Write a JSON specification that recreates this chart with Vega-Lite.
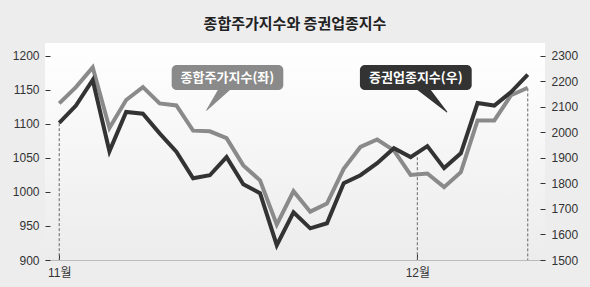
{
  "$schema": "https://vega.github.io/schema/vega-lite/v6.json",
  "width": 500,
  "height": 217,
  "autosize": {"type": "none"},
  "padding": {"left": 45, "top": 43, "right": 45, "bottom": 27},
  "background": "#ededed",
  "title": {"text": "종합주가지수와 증권업종지수", "font": "Noto Sans CJK KR", "fontSize": 15, "fontWeight": "bold", "color": "#222222", "offset": 11, "anchor": "middle"},
  "config": {
    "view": {"stroke": null, "fill": {"gradient": "linear", "x1": 0, "y1": 0, "x2": 0, "y2": 1, "stops": [{"offset": 0, "color": "#ffffff"}, {"offset": 1, "color": "#ececec"}]}},
    "axis": {"labelFont": "Liberation Sans, Noto Sans CJK KR", "labelFontSize": 12, "labelColor": "#333333", "grid": false, "tickColor": "#333333", "format": "d"}
  },
  "datasets": {
    "idx": [
      {"i": 0, "kospi": 1130, "sec": 2037},
      {"i": 1, "kospi": 1154, "sec": 2105},
      {"i": 2, "kospi": 1183, "sec": 2205},
      {"i": 3, "kospi": 1094, "sec": 1926},
      {"i": 4, "kospi": 1135, "sec": 2080},
      {"i": 5, "kospi": 1154, "sec": 2073},
      {"i": 6, "kospi": 1130, "sec": 1996},
      {"i": 7, "kospi": 1127, "sec": 1924},
      {"i": 8, "kospi": 1090, "sec": 1820},
      {"i": 9, "kospi": 1089, "sec": 1832},
      {"i": 10, "kospi": 1079, "sec": 1903},
      {"i": 11, "kospi": 1039, "sec": 1797},
      {"i": 12, "kospi": 1017, "sec": 1762},
      {"i": 13, "kospi": 952, "sec": 1558},
      {"i": 14, "kospi": 1001, "sec": 1687},
      {"i": 15, "kospi": 971, "sec": 1624},
      {"i": 16, "kospi": 983, "sec": 1644},
      {"i": 17, "kospi": 1034, "sec": 1801},
      {"i": 18, "kospi": 1066, "sec": 1832},
      {"i": 19, "kospi": 1077, "sec": 1879},
      {"i": 20, "kospi": 1061, "sec": 1938},
      {"i": 21, "kospi": 1025, "sec": 1903},
      {"i": 22, "kospi": 1027, "sec": 1946},
      {"i": 23, "kospi": 1007, "sec": 1860},
      {"i": 24, "kospi": 1029, "sec": 1918},
      {"i": 25, "kospi": 1105, "sec": 2115},
      {"i": 26, "kospi": 1105, "sec": 2105},
      {"i": 27, "kospi": 1142, "sec": 2158},
      {"i": 28, "kospi": 1153, "sec": 2226}
    ],
    "marks": [
      {"i": 0, "top": 1101},
      {"i": 21.4, "top": 1051},
      {"i": 28, "top": 1152}
    ],
    "boxes": [
      {"label": "종합주가지수(좌)", "x1": 6.72, "x2": 13.39, "xc": 10.05, "y1": 1186.3, "y2": 1149.6, "yc": 1168},
      {"label": "증권업종지수(우)", "x1": 17.97, "x2": 24.65, "xc": 21.31, "y1": 1186.3, "y2": 1149.6, "yc": 1168}
    ],
    "ptr": [
      {"label": "종합주가지수(좌)", "i": 10.0, "v": 1156, "w": 1},
      {"label": "종합주가지수(좌)", "i": 8.81, "v": 1120, "w": 0},
      {"label": "증권업종지수(우)", "i": 21.6, "v": 1156, "w": 1},
      {"label": "증권업종지수(우)", "i": 23.16, "v": 1117.6, "w": 0}
    ]
  },
  "layer": [
    {
      "data": {"name": "marks"},
      "mark": {"type": "rule", "color": "#666666", "strokeWidth": 1, "strokeDash": [3, 2]},
      "encoding": {
        "x": {"field": "i", "type": "quantitative", "scale": {"domain": [-0.85, 29.03], "nice": false, "zero": false}, "axis": {"values": [0, 21.4], "labelExpr": "datum.value < 1 ? '11월' : '12월'", "title": null, "domainColor": "#bbbbbb", "tickSize": -6, "labelPadding": 13}},
        "y": {"field": "top", "type": "quantitative", "scale": {"domain": [900, 1218.75], "nice": false, "zero": false}, "axis": null},
        "y2": {"datum": 900}
      }
    },
    {
      "data": {"name": "idx"},
      "mark": {"type": "line", "color": "#8a8a8a", "strokeWidth": 4, "strokeJoin": "miter", "strokeCap": "butt"},
      "encoding": {
        "x": {"field": "i", "type": "quantitative", "scale": {"domain": [-0.85, 29.03], "nice": false, "zero": false}, "axis": {"values": [0, 21.4], "labelExpr": "datum.value < 1 ? '11월' : '12월'", "title": null, "domainColor": "#bbbbbb", "tickSize": -6, "labelPadding": 13}},
        "y": {"field": "kospi", "type": "quantitative", "scale": {"domain": [900, 1218.75], "nice": false, "zero": false}, "axis": {"orient": "left", "values": [900, 950, 1000, 1050, 1100, 1150, 1200], "title": null, "domain": false, "tickSize": -5, "labelPadding": 11}}
      }
    },
    {
      "data": {"name": "idx"},
      "mark": {"type": "line", "color": "#333333", "strokeWidth": 4, "strokeJoin": "miter", "strokeCap": "butt"},
      "encoding": {
        "x": {"field": "i", "type": "quantitative", "scale": {"domain": [-0.85, 29.03], "nice": false, "zero": false}, "axis": {"values": [0, 21.4], "labelExpr": "datum.value < 1 ? '11월' : '12월'", "title": null, "domainColor": "#bbbbbb", "tickSize": -6, "labelPadding": 13}},
        "y": {"field": "sec", "type": "quantitative", "scale": {"domain": [1500, 2350], "nice": false, "zero": false}, "axis": {"orient": "right", "values": [1500, 1600, 1700, 1800, 1900, 2000, 2100, 2200, 2300], "title": null, "domain": false, "tickSize": -5, "labelPadding": 11}}
      }
    },
    {
      "data": {"name": "ptr"},
      "mark": {"type": "trail"},
      "encoding": {
        "x": {"field": "i", "type": "quantitative", "scale": {"domain": [-0.85, 29.03], "nice": false, "zero": false}, "axis": {"values": [0, 21.4], "labelExpr": "datum.value < 1 ? '11월' : '12월'", "title": null, "domainColor": "#bbbbbb", "tickSize": -6, "labelPadding": 13}},
        "y": {"field": "v", "type": "quantitative", "scale": {"domain": [900, 1218.75], "nice": false, "zero": false}, "axis": null},
        "size": {"field": "w", "type": "quantitative", "scale": {"domain": [0, 1], "range": [0, 11]}, "legend": null},
        "color": {"field": "label", "type": "nominal", "scale": {"domain": ["종합주가지수(좌)", "증권업종지수(우)"], "range": ["#8a8a8a", "#333333"]}, "legend": null}
      }
    },
    {
      "data": {"name": "boxes"},
      "mark": {"type": "rect", "cornerRadius": 5},
      "encoding": {
        "x": {"field": "x1", "type": "quantitative", "scale": {"domain": [-0.85, 29.03], "nice": false, "zero": false}, "axis": {"values": [0, 21.4], "labelExpr": "datum.value < 1 ? '11월' : '12월'", "title": null, "domainColor": "#bbbbbb", "tickSize": -6, "labelPadding": 13}},
        "x2": {"field": "x2"},
        "y": {"field": "y1", "type": "quantitative", "scale": {"domain": [900, 1218.75], "nice": false, "zero": false}, "axis": null},
        "y2": {"field": "y2"},
        "color": {"field": "label", "type": "nominal", "scale": {"domain": ["종합주가지수(좌)", "증권업종지수(우)"], "range": ["#8a8a8a", "#333333"]}, "legend": null}
      }
    },
    {
      "data": {"name": "boxes"},
      "mark": {"type": "text", "color": "#ffffff", "font": "Noto Sans CJK KR", "fontSize": 13, "fontWeight": "bold", "align": "center", "baseline": "middle"},
      "encoding": {
        "x": {"field": "xc", "type": "quantitative", "scale": {"domain": [-0.85, 29.03], "nice": false, "zero": false}, "axis": {"values": [0, 21.4], "labelExpr": "datum.value < 1 ? '11월' : '12월'", "title": null, "domainColor": "#bbbbbb", "tickSize": -6, "labelPadding": 13}},
        "y": {"field": "yc", "type": "quantitative", "scale": {"domain": [900, 1218.75], "nice": false, "zero": false}, "axis": null},
        "text": {"field": "label"}
      }
    }
  ],
  "resolve": {"scale": {"y": "independent", "color": "independent", "size": "independent"}}
}
